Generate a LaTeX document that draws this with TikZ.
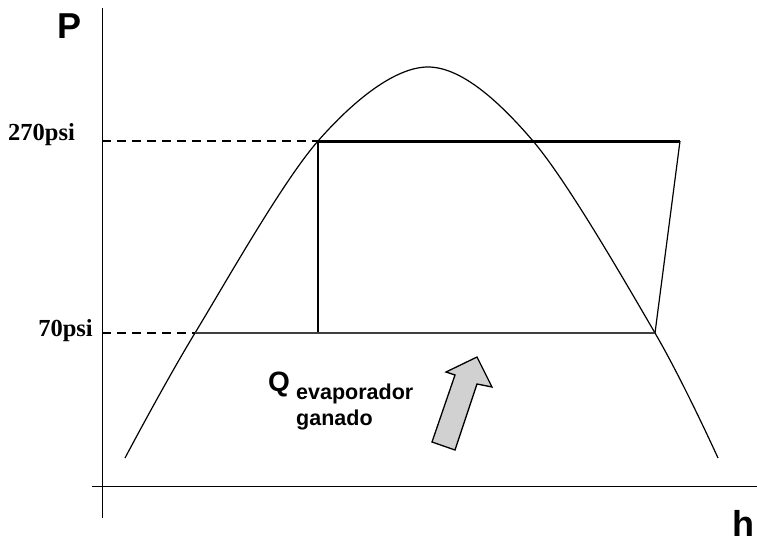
\documentclass[tikz,border=0pt]{standalone}
\usepackage{fontspec}
\setmainfont{Liberation Serif}
\newfontfamily\sansb{Liberation Sans Bold}
\begin{document}
\begin{tikzpicture}[x=1pt,y=-1pt,
  axis/.style={line width=1pt,black},
  dashln/.style={dash pattern=on 9pt off 6pt,line width=2pt},
  dome/.style={line width=1.2pt},
  cycle/.style={line width=1.2pt},
  lbl/.style={font=\bfseries\fontsize{24.5}{24.5}\selectfont,inner sep=0pt},
  qtxt/.style={font=\sansb\fontsize{21.5}{21.5}\selectfont,inner sep=0pt,anchor=base west}]
\useasboundingbox (0,0) rectangle (757,544);
% axes
\coordinate (ytop) at (102,8);
\coordinate (ybot) at (102,518);
\coordinate (xl) at (92,486);
\coordinate (xr) at (757,486);
\draw[axis] (ytop) -- (ybot);
\draw[axis] (xl) -- (xr);
\node[font=\sansb\fontsize{36}{36}\selectfont,inner sep=0pt] (P) at (70,26) {P};
\node[font=\sansb\fontsize{36}{36}\selectfont,inner sep=0pt,anchor=base east] (h) at (755,536) {h};
% points
\coordinate (a270) at (102,141);
\coordinate (a70) at (102,333);
\coordinate (L70) at (195,333);
\coordinate (L270) at (318,141);
\coordinate (R270) at (680,141);
\coordinate (R70) at (655,333);
\coordinate (V70) at (318,333);
% labels
\node[lbl,anchor=base west] (t270) at (8,140) {270psi};
\node[lbl,anchor=base east] (t70) at (93,336) {70psi};
% dashed
\draw[dashln] (a270) -- (L270);
\draw[dashln] (a70) -- (L70);
% dome
\draw[dome] plot[smooth,tension=0.55] coordinates {(125,458) (195,333) (318,141) (428,67) (533,141) (655,333) (718,458)};
% cycle
\draw[line width=3pt] (L270) -- (R270);
\draw[cycle] (L270) -- (V70);
\draw[line width=1.4pt,black!75] (L70) -- (R70);
\draw[cycle] (R270) -- (R70);
% text
\node[font=\sansb\fontsize{28}{28}\selectfont,inner sep=0pt,anchor=base east] (Q) at (290,391) {Q};
\node[qtxt] (ev) at (296,399) {evaporador};
\node[qtxt] (gn) at (296,425) {ganado};
% block arrow
\coordinate (tbl) at (432,442);
\coordinate (tbr) at (455,450);
\coordinate (srt) at (477,384);
\coordinate (rb) at (492,387);
\coordinate (tip) at (477,357);
\coordinate (lb) at (446,372);
\coordinate (slt) at (455,375);
\draw[line width=1.3pt,fill=black!18] (tbl) -- (tbr) -- (srt) -- (rb) -- (tip) -- (lb) -- (slt) -- cycle;
\end{tikzpicture}
\end{document}
